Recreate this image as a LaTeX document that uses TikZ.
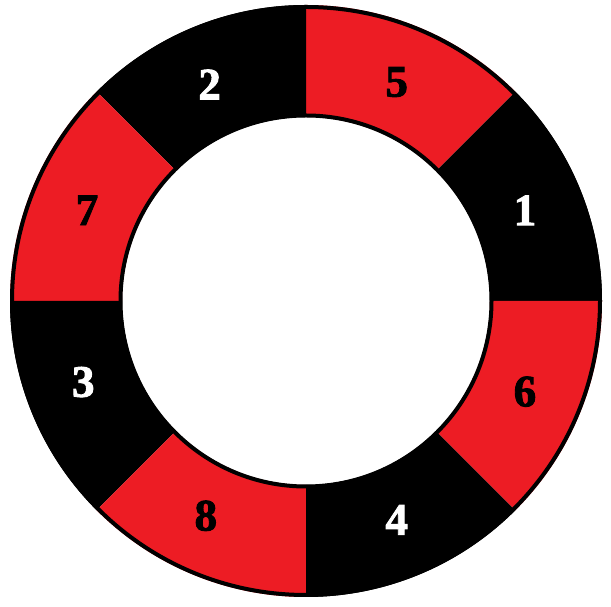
\documentclass[tikz,border=0pt]{standalone}
\usepackage{fontspec}
\setmainfont{Liberation Serif}
\newfontfamily\numfont{Liberation Serif}[BoldFeatures={FakeBold=2}]
\definecolor{ringred}{RGB}{237,28,36}
\tikzset{
  numlabel/.style={font=\numfont\fontsize{45}{45}\selectfont\bfseries, inner sep=0pt},
  ringline/.style={draw=black, line width=4pt}
}
\begin{document}
\begin{tikzpicture}[x=1pt,y=1pt]
\useasboundingbox[fill=white] (0,0) rectangle (611,607);
\begin{scope}[shift={(306,306)}]
  \foreach \a/\col in {0/black,45/ringred,90/black,135/ringred,180/black,225/ringred,270/black,315/ringred}{
    \fill[\col] (\a:296) arc[start angle=\a, end angle=\a+45, radius=296]
      -- (\a+45:184) arc[start angle=\a+45, end angle=\a, radius=184] -- cycle;
  }
  \draw[ringline] (0,0) circle[radius=294];
  \draw[ringline] (0,0) circle[radius=185.5];
  \node[numlabel, text=white] (n1) at (22.5:237) {1};
  \node[numlabel, text=black] (n5) at (67.5:237) {5};
  \node[numlabel, text=white] (n2) at (114:237) {2};
  \node[numlabel, text=black] (n7) at (157.5:237) {7};
  \node[numlabel, text=white] (n3) at (200:237) {3};
  \node[numlabel, text=black] (n8) at (245:237) {8};
  \node[numlabel, text=white] (n4) at (292.5:237) {4};
  \node[numlabel, text=black] (n6) at (337.5:237) {6};
\end{scope}
\end{tikzpicture}
\end{document}
